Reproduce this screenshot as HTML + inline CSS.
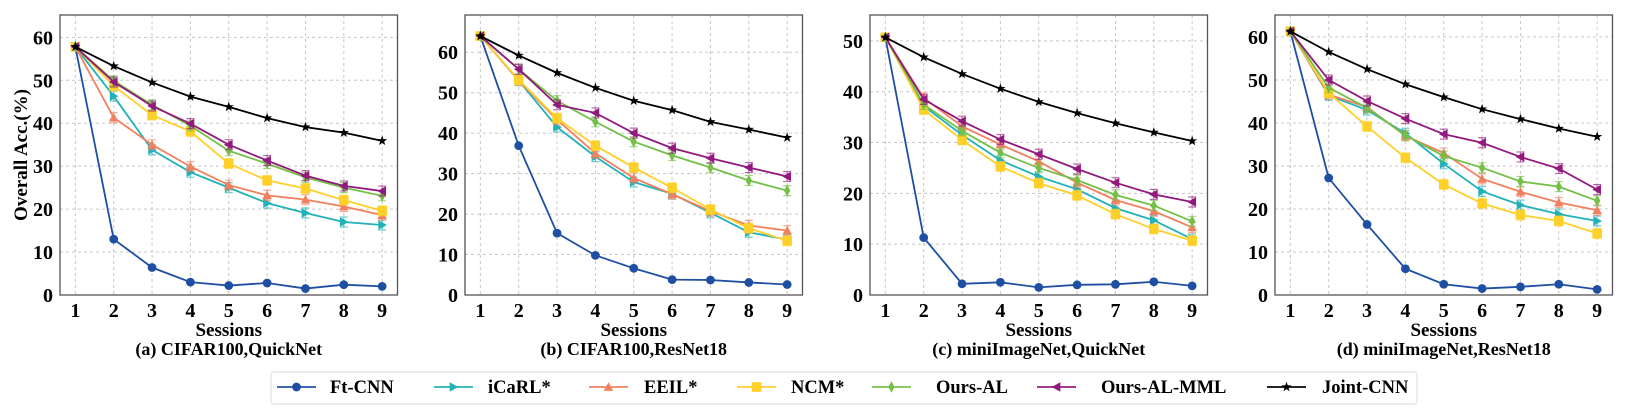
<!DOCTYPE html>
<html><head><meta charset="utf-8"><style>
html,body{margin:0;padding:0;background:#fff;}
svg{display:block;font-family:"Liberation Serif",serif;font-weight:bold;}
</style></head><body>
<svg id="chart" width="1627" height="412" viewBox="0 0 1627 412" xmlns="http://www.w3.org/2000/svg"></svg>
<script>
const sessions = [1,2,3,4,5,6,7,8,9];
const seriesNames = ["Ft-CNN","iCaRL*","EEIL*","NCM*","Ours-AL","Ours-AL-MML","Joint-CNN"];
const seriesColors = ["#1f4fa3","#20b2b8","#f2805f","#ffd02a","#74c046","#921a7e","#000000"];
const seriesMarkers = ["circle","tright","tup","square","diamond","tleft","star"];
const captions = ["(a) CIFAR100,QuickNet","(b) CIFAR100,ResNet18","(c) miniImageNet,QuickNet","(d) miniImageNet,ResNet18"];
const yTicksA = [0,10,20,30,40,50,60];
const yTicksC = [0,10,20,30,40,50];
const dataA = [
 [57.8,13.0,6.4,3.0,2.2,2.8,1.5,2.4,2.0],
 [57.8,46.3,33.8,28.6,25.0,21.4,19.1,17.0,16.3],
 [57.8,41.3,35.0,29.9,25.6,23.2,22.2,20.6,18.6],
 [57.8,48.7,41.9,38.1,30.6,26.7,24.8,22.1,19.6],
 [57.8,49.9,44.3,39.4,33.6,30.6,27.4,25.0,23.1],
 [57.8,49.6,44.0,39.9,35.0,31.3,27.8,25.4,24.2],
 [57.8,53.3,49.5,46.2,43.8,41.2,39.1,37.8,35.9]];
const dataB = [
 [64,36.9,15.3,9.8,6.6,3.8,3.7,3.1,2.6],
 [64,53,41.5,34.2,27.9,25.0,20.3,15.5,13.7],
 [64,53,43.3,35.0,28.9,24.9,20.7,17.2,15.9],
 [64,53.2,43.7,36.9,31.5,26.5,21.1,16.5,13.4],
 [64,55.8,48.0,42.8,37.9,34.5,31.5,28.3,25.8],
 [64,55.8,47.0,45.0,40.0,36.3,33.8,31.5,29.3],
 [64,59.2,54.9,51.2,48.0,45.7,42.8,40.9,38.9]];
const dataC = [
 [50.7,11.3,2.2,2.5,1.5,2.0,2.1,2.6,1.8],
 [50.7,37.2,31.5,26.5,23.3,20.8,17.1,14.7,11.0],
 [50.7,38.8,33.2,29.6,26.3,22.1,18.7,16.5,13.3],
 [50.7,36.5,30.5,25.3,22.0,19.6,15.9,13.0,10.7],
 [50.7,37.5,32.3,28.0,25.0,22.6,19.7,17.6,14.5],
 [50.7,38.5,34.2,30.6,27.7,24.8,22.1,19.8,18.3],
 [50.7,46.8,43.5,40.6,38.0,35.8,33.8,32.0,30.3]];
const dataD = [
 [61.3,27.2,16.4,6.1,2.5,1.5,1.9,2.5,1.3],
 [61.3,46.4,43.0,37.6,30.5,24.1,20.9,18.8,17.2],
 [61.3,46.6,43.7,37.0,33.0,27.0,24.0,21.5,19.7],
 [61.3,47.0,39.2,31.9,25.7,21.3,18.6,17.2,14.3],
 [61.3,48.2,43.5,37.1,32.3,29.6,26.4,25.2,21.9],
 [61.3,50.0,45.1,41.0,37.4,35.4,32.1,29.4,24.5],
 [61.3,56.5,52.5,49.0,46.0,43.2,40.9,38.7,36.8]];

const svg = document.getElementById('chart');
const NS = "http://www.w3.org/2000/svg";
function mk(tag, attrs, parent){const e=document.createElementNS(NS,tag);for(const k in attrs)e.setAttribute(k,attrs[k]);(parent||svg).appendChild(e);return e;}

function marker(g, type, cx, cy, color){
  let e; const s=4.8;
  if(type==="circle"){e=mk('circle',{cx:cx,cy:cy,r:4.4,fill:color},g);}
  else if(type==="square"){e=mk('rect',{x:cx-4.8,y:cy-4.8,width:9.6,height:9.6,fill:color},g);}
  else{
    let pts;
    if(type==="tup") pts=[[0,-s],[s,s*0.8],[-s,s*0.8]];
    else if(type==="tright") pts=[[s,0],[-s*0.8,-s],[-s*0.8,s]];
    else if(type==="tleft") pts=[[-s,0],[s*0.8,-s],[s*0.8,s]];
    else if(type==="diamond") pts=[[0,-5.8],[3.2,0],[0,5.8],[-3.2,0]];
    else { pts=[]; for(let i=0;i<10;i++){const r=i%2?2.1:5.3;const a=-Math.PI/2+i*Math.PI/5;pts.push([r*Math.cos(a),r*Math.sin(a)]);} }
    e=mk('polygon',{points:pts.map(p=>(cx+p[0])+','+(cy+p[1])).join(' '),fill:color},g);
  }
  
  
}

const panels = [
 {left:60, data:dataA, ymax:65.2, ticks:yTicksA},
 {left:465, data:dataB, ymax:69.2, ticks:yTicksA},
 {left:870, data:dataC, ymax:55.1, ticks:yTicksC},
 {left:1275, data:dataD, ymax:65.1, ticks:yTicksA}];
const TOP=15, BOT=295, W=337.5;

panels.forEach((p,pi)=>{
  const g=mk('g',{});
  
  
  const xs=v=>p.left+(v-0.6)/8.8*W;
  const ys=v=>BOT-v/p.ymax*(BOT-TOP);
  sessions.forEach(s=>{
    const l=mk('line',{x1:xs(s),x2:xs(s),y1:TOP,y2:BOT,stroke:'#c8c8c8','stroke-width':1,'stroke-dasharray':'3,3'},g);
    
    
    const t=mk('text',{x:xs(s),y:BOT+22,'text-anchor':'middle','font-size':20},g);
    t.textContent=s;
    
    
  });
  p.ticks.forEach(v=>{
    const l=mk('line',{x1:p.left,x2:p.left+W,y1:ys(v),y2:ys(v),stroke:'#c8c8c8','stroke-width':1,'stroke-dasharray':'3,3'},g);
    
    
    const t=mk('text',{x:p.left-7,y:ys(v)+7,'text-anchor':'end','font-size':20},g);
    t.textContent=v;
    
    
  });
  p.data.forEach((vals,si)=>{
    const sg=mk('g',{},g);
    
    
    const c=seriesColors[si];
    const pl=mk('polyline',{points:vals.map((v,i)=>xs(sessions[i])+','+ys(v)).join(' '),fill:'none',stroke:c,'stroke-width':1.8},sg);
    
    
    vals.forEach((v,i)=>{
      const x=xs(sessions[i]),y=ys(v);
      if(si>0&&si<6&&i>0){
        const e=mk('path',{d:`M${x},${y-5}V${y+5}M${x-4},${y-5}H${x+4}M${x-4},${y+5}H${x+4}`,stroke:c,'stroke-width':1.2,fill:'none',opacity:0.65},sg);
        
        
      }
      marker(sg,seriesMarkers[i===0&&si<6?si:si],x,y,c);
    });
  });
  const fr=mk('rect',{x:p.left,y:TOP,width:W,height:BOT-TOP,fill:'none',stroke:'#555','stroke-width':1.3},g);
  
  
  const xl=mk('text',{x:p.left+W/2,y:336,'text-anchor':'middle','font-size':19},g);
  xl.textContent='Sessions';
  
  
  const cp=mk('text',{x:p.left+W/2,y:355,'text-anchor':'middle','font-size':18},g);
  cp.textContent=captions[pi];
  
  
});
const yl=mk('text',{x:0,y:0,'text-anchor':'middle','font-size':19,transform:'translate(27,155) rotate(-90)'});
yl.textContent='Overall Acc.(%)';



const lg=mk('g',{});


const lb=mk('rect',{x:271,y:372,width:1146,height:32,rx:3,fill:'#fff',stroke:'#d8d8d8','stroke-width':1},lg);


const legendX=[277,434,589,737,872,1037,1267];
const legendTextX=[330,488,644,791,936,1101,1322];
seriesNames.forEach((n,i)=>{
  const eg=mk('g',{},lg);
  
  
  const x=legendX[i];
  mk('line',{x1:x,x2:x+39,y1:387,y2:387,stroke:seriesColors[i],'stroke-width':2,opacity:0.85},eg);
  marker(eg,seriesMarkers[i],x+19.5,387,seriesColors[i]);
  const t=mk('text',{x:legendTextX[i],y:393,'font-size':18.5},eg);
  t.textContent=n;
  
  
});
</script>
</body></html>
